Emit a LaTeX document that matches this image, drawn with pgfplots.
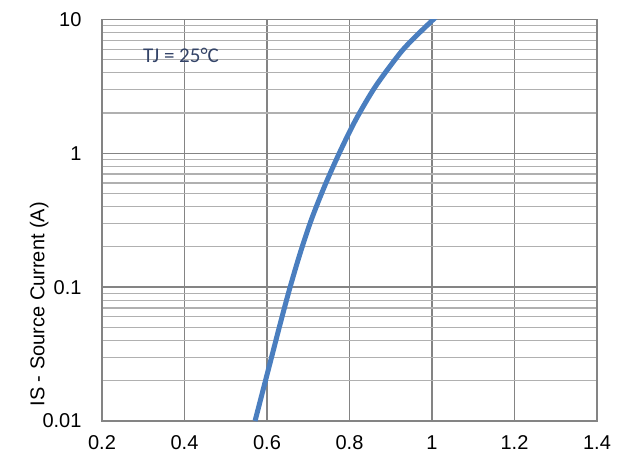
\documentclass[border=0pt]{standalone}
\usepackage{pgfplots}
\pgfplotsset{compat=1.18}
\usepackage{fontspec}
\setmainfont{Liberation Sans}
\newfontfamily\calib{Carlito}
\definecolor{gridmaj}{RGB}{132,132,132}
\definecolor{gridmin}{RGB}{176,176,176}
\definecolor{curve}{RGB}{74,126,191}
\definecolor{txtblue}{RGB}{52,68,104}
\begin{document}
\begin{tikzpicture}[x=1pt,y=1pt]
\path[use as bounding box] (-102,-36) rectangle (527,421);
\begin{axis}[
  at={(0,0)}, anchor=south west,
  scale only axis, width=495pt, height=401.5pt,
  xmin=0.2, xmax=1.4,
  ymode=log, ymin=0.01, ymax=10,
  xtick={0.2,0.4,0.6,0.8,1,1.2,1.4},
  xticklabels={0.2,0.4,0.6,0.8,1,1.2,1.4},
  ytick={0.01,0.1,1,10},
  yticklabels={0.01,0.1,1,10},
  minor ytick={0.02,0.03,0.04,0.05,0.06,0.07,0.08,0.09,0.2,0.3,0.4,0.5,0.6,0.7,0.8,0.9,2,3,4,5,6,7,8,9},
  grid=both,
  major grid style={gridmaj, line width=1.5pt},
  minor grid style={gridmin, line width=1.2pt},
  axis line style={gridmaj, line width=1.5pt},
  major tick length=0pt, minor tick length=0pt,
  tick style={draw=none},
  /pgf/number format/assume math mode=true,
  ticklabel style={font=\fontsize{20}{24}\selectfont, text=black},
  yticklabel style={xshift=-17pt},
  xticklabel style={yshift=-11pt},
  ylabel={IS - Source Current (A)},
  ylabel style={font=\fontsize{20}{24}\selectfont, at={(ticklabel cs:0.5)}, anchor=center, xshift=-84pt},
  clip=true,
]
\addplot[curve, line width=5pt, smooth, tension=0.5] coordinates {
(0.571,0.0100)
(0.592,0.01778)
(0.613,0.03162)
(0.634,0.05623)
(0.656,0.1000)
(0.680,0.1778)
(0.707,0.3162)
(0.739,0.5623)
(0.775,1.000)
(0.815,1.778)
(0.863,3.162)
(0.923,5.623)
(0.961,7.499)
(1.003,10.0)
(1.008,10.4)
};
\node[anchor=west, inner sep=0pt, text=txtblue, font=\calib\fontsize{21}{24}\selectfont] at (axis cs:0.299,5.38) {TJ = 25\textdegree C};
\end{axis}
\end{tikzpicture}
\end{document}
